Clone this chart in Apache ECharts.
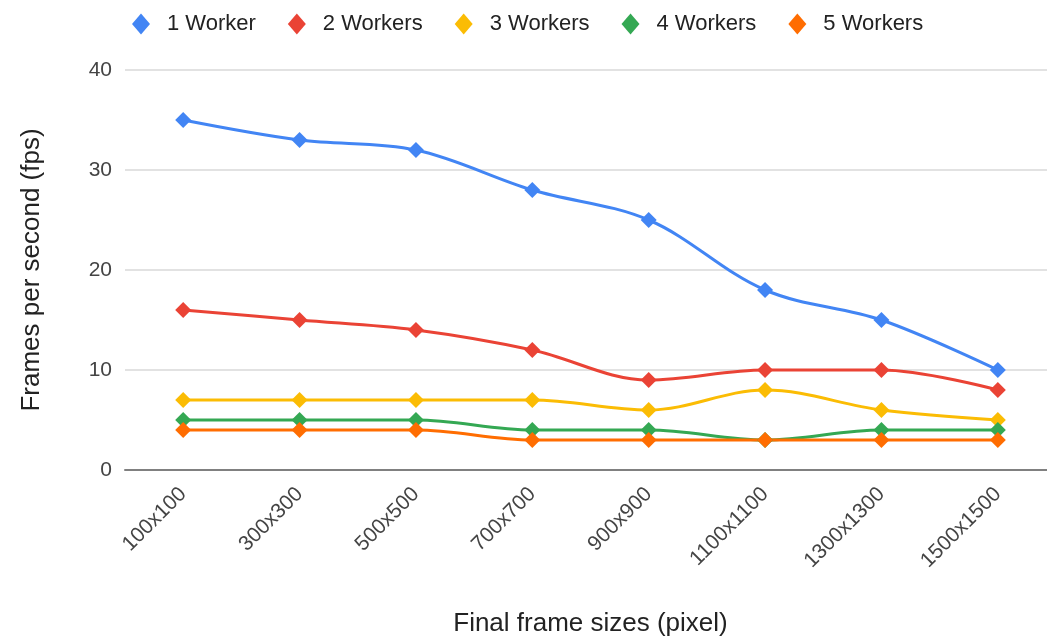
<!DOCTYPE html>
<html>
<head>
<meta charset="utf-8">
<title>Frames per second by final frame size</title>
<script src="https://cdn.jsdelivr.net/npm/echarts@6/dist/echarts.min.js"></script>
<style>
  html, body { margin: 0; padding: 0; background: #ffffff; }
  #chart { width: 1047px; height: 636px; }
</style>
</head>
<body>
<div id="chart"></div>
<script>
// Final frame sizes (x axis categories)
const frameSizes = ['100x100', '300x300', '500x500', '700x700', '900x900', '1100x1100', '1300x1300', '1500x1500'];

// Frames per second for each worker count
const oneWorker    = [35, 33, 32, 28, 25, 18, 15, 10];
const twoWorkers   = [16, 15, 14, 12, 9, 10, 10, 8];
const threeWorkers = [7, 7, 7, 7, 6, 8, 6, 5];
const fourWorkers  = [5, 5, 5, 4, 4, 3, 4, 4];
const fiveWorkers  = [4, 4, 4, 3, 3, 3, 3, 3];

const seriesNames  = ['1 Worker', '2 Workers', '3 Workers', '4 Workers', '5 Workers'];
const seriesValues = [oneWorker, twoWorkers, threeWorkers, fourWorkers, fiveWorkers];
const seriesColors = ['#4285F4', '#EA4335', '#FBBC04', '#34A853', '#FF6D01'];

// Y axis ticks
const yMin = 0;
const yMax = 40;
const yStep = 10;

const FONT = '"Liberation Sans", Arial, sans-serif';

const chart = echarts.init(document.getElementById('chart'), null, { renderer: 'canvas' });

chart.setOption({
  backgroundColor: '#ffffff',
  animation: false,
  color: seriesColors,
  textStyle: { fontFamily: FONT },
  legend: {
    left: 127,
    top: 8,
    icon: 'diamond',
    itemWidth: 18,
    itemHeight: 21,
    itemGap: 32,
    textStyle: { fontFamily: FONT, fontSize: 22, color: '#222222', padding: [0, 0, 0, 12] },
    data: seriesNames
  },
  grid: {
    left: 125,
    top: 70,
    width: 931,
    height: 400,
    containLabel: false,
    outerBoundsMode: 'none'
  },
  xAxis: {
    type: 'category',
    data: frameSizes,
    boundaryGap: true,
    name: 'Final frame sizes (pixel)',
    nameLocation: 'middle',
    nameGap: 141,
    nameTextStyle: { fontFamily: FONT, fontSize: 26, color: '#222222' },
    axisLine: { show: true, lineStyle: { color: '#808080', width: 2 } },
    axisTick: { show: false },
    axisLabel: {
      rotate: 45,
      margin: 21,
      interval: 0,
      fontFamily: FONT,
      fontSize: 21,
      color: '#444444'
    },
    splitLine: { show: false }
  },
  yAxis: {
    type: 'value',
    min: yMin,
    max: yMax,
    interval: yStep,
    name: 'Frames per second (fps)',
    nameLocation: 'middle',
    nameRotate: 90,
    nameGap: 80,
    nameTextStyle: { fontFamily: FONT, fontSize: 26, color: '#222222' },
    axisLine: { show: false },
    axisTick: { show: false },
    axisLabel: { margin: 13, fontFamily: FONT, fontSize: 21, color: '#444444' },
    splitLine: { show: true, lineStyle: { color: '#d9d9d9', width: 1.5 } }
  },
  series: seriesNames.map((name, i) => ({
    name: name,
    type: 'line',
    data: seriesValues[i],
    smooth: 0.35,
    symbol: 'diamond',
    symbolSize: 16,
    showAllSymbol: true,
    lineStyle: { width: 3, color: seriesColors[i] },
    itemStyle: { color: seriesColors[i] },
    emphasis: { disabled: true }
  }))
});
</script>
</body>
</html>
